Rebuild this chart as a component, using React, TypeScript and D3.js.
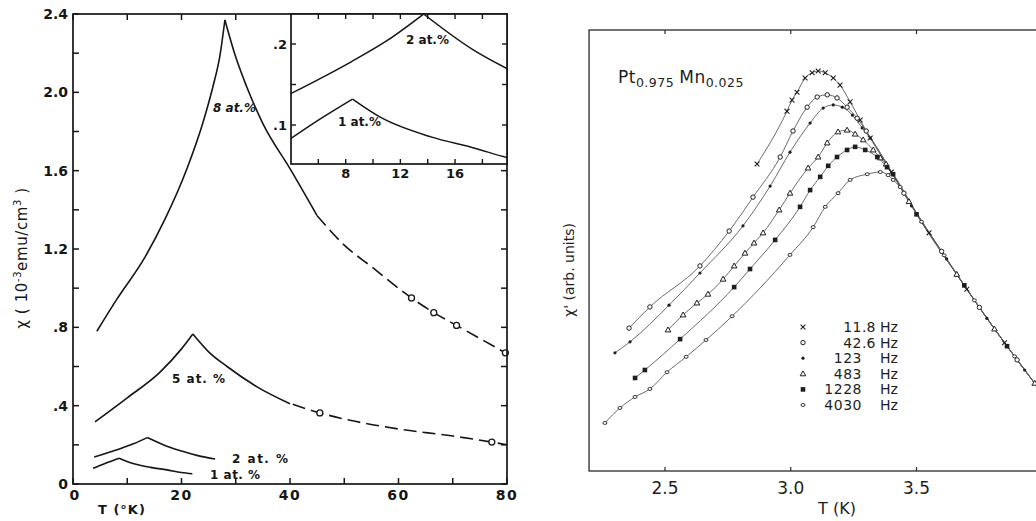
import React from "react";
import * as d3 from "d3";

// ---------- Left panel data (chi in 1e-3 emu/cm3, T in K) ----------
const c8RiseT = [4.4, 8, 13.3, 17, 21, 24, 25.8, 27.1, 28];
const c8RiseChi = [0.78, 0.94, 1.16, 1.355, 1.61, 1.85, 2.03, 2.19, 2.37];
const c8FallT = [28, 30, 32, 35, 40, 45];
const c8FallChi = [2.37, 2.18, 2.03, 1.84, 1.61, 1.37];
const c8DashT = [45, 50, 55, 62.4, 66.5, 70.7, 79.7];
const c8DashChi = [1.37, 1.22, 1.11, 0.95, 0.875, 0.81, 0.67];
const c8CircT = [62.4, 66.5, 70.7, 79.7];
const c8CircChi = [0.95, 0.875, 0.81, 0.67];

const c5RiseT = [4.05, 10, 16, 20, 22.1];
const c5RiseChi = [0.317, 0.44, 0.57, 0.69, 0.766];
const c5FallT = [22.1, 25, 28.4, 34, 40];
const c5FallChi = [0.766, 0.675, 0.6, 0.495, 0.41];
const c5DashT = [40.5, 45.5, 52, 60, 70, 77.2, 80];
const c5DashChi = [0.407, 0.363, 0.32, 0.281, 0.245, 0.214, 0.2];
const c5CircT = [45.5, 77.2];
const c5CircChi = [0.363, 0.214];

const c2RiseT = [3.9, 8.4, 11.1, 13.7];
const c2RiseChi = [0.138, 0.178, 0.205, 0.237];
const c2FallT = [13.7, 17.3, 20, 23, 26.2];
const c2FallChi = [0.237, 0.193, 0.168, 0.145, 0.128];

const c1RiseT = [3.7, 6, 8.5];
const c1RiseChi = [0.08, 0.106, 0.132];
const c1FallT = [8.5, 10.6, 14.3, 17.3, 20, 22];
const c1FallChi = [0.132, 0.109, 0.085, 0.072, 0.059, 0.052];

const leftYTicks = [0, 0.4, 0.8, 1.2, 1.6, 2.0, 2.4];
const leftYLabels = ["0", ".4", ".8", "1.2", "1.6", "2.0", "2.4"];
const leftXTicks = [0, 20, 40, 60, 80];
const leftXLabels = ["0", "20", "40", "60", "80"];
const insetXTicks = [8, 12, 16];
const insetXLabels = ["8", "12", "16"];
const insetYTicks = [0.1, 0.2];
const insetYLabels = [".1", ".2"];

// ---------- Right panel data (chi' arb. units, T in K) ----------
const f118T = [2.866, 2.985, 3.005, 3.025, 3.057, 3.085, 3.109, 3.137, 3.169, 3.196, 3.236, 3.276, 3.316, 3.40, 3.55, 3.70, 3.85, 4.0];
const f118V = [6.96, 8.16, 8.41, 8.59, 8.91, 9.03, 9.07, 9.03, 8.91, 8.75, 8.37, 7.96, 7.55, 6.78, 5.40, 4.12, 2.91, 1.76];

const f426T = [2.357, 2.44, 2.639, 2.755, 2.85, 2.958, 3.009, 3.065, 3.105, 3.145, 3.184, 3.224, 3.264, 3.30, 3.45, 3.60, 3.75, 3.90, 4.0];
const f426V = [3.24, 3.72, 4.65, 5.44, 6.21, 7.12, 7.71, 8.25, 8.48, 8.53, 8.46, 8.25, 8.0, 7.71, 6.30, 4.98, 3.71, 2.52, 1.76];

const f123T = [2.301, 2.361, 2.516, 2.639, 2.81, 2.918, 2.997, 3.077, 3.129, 3.169, 3.205, 3.245, 3.284, 3.316, 3.48, 3.62, 3.78, 3.93, 4.0];
const f123V = [2.68, 2.93, 3.76, 4.49, 5.56, 6.46, 7.23, 7.89, 8.23, 8.30, 8.25, 8.07, 7.78, 7.55, 6.01, 4.81, 3.46, 2.29, 1.76];

const f483T = [2.512, 2.572, 2.627, 2.671, 2.731, 2.775, 2.818, 2.854, 2.89, 2.954, 2.997, 3.069, 3.109, 3.145, 3.188, 3.224, 3.256, 3.288, 3.328, 3.356, 3.379, 3.47, 3.66, 3.81, 3.97, 4.0];
const f483V = [3.2, 3.54, 3.81, 4.01, 4.35, 4.65, 4.94, 5.17, 5.4, 5.92, 6.3, 6.87, 7.12, 7.44, 7.69, 7.73, 7.64, 7.51, 7.28, 7.1, 6.96, 6.11, 4.46, 3.22, 1.99, 1.76];

const f1228T = [2.381, 2.42, 2.56, 2.775, 2.838, 2.938, 3.037, 3.077, 3.117, 3.149, 3.184, 3.224, 3.256, 3.296, 3.344, 3.383, 3.407, 3.50, 3.69, 3.86, 4.0];
const f1228V = [2.11, 2.29, 2.99, 4.17, 4.58, 5.24, 5.99, 6.37, 6.67, 6.92, 7.12, 7.28, 7.35, 7.28, 7.12, 6.89, 6.73, 5.82, 4.21, 2.83, 1.76];

const f4030T = [2.261, 2.321, 2.381, 2.44, 2.508, 2.584, 2.663, 2.767, 2.997, 3.089, 3.137, 3.188, 3.236, 3.304, 3.356, 3.387, 3.407, 3.435, 3.52, 3.61, 3.73, 3.89, 4.0];
const f4030V = [1.09, 1.43, 1.68, 1.86, 2.24, 2.59, 2.97, 3.51, 4.9, 5.53, 5.99, 6.3, 6.6, 6.73, 6.78, 6.71, 6.6, 6.44, 5.65, 4.89, 3.87, 2.6, 1.76];

const freqLabels = ["11.8", "42.6", "123", "483", "1228", "4030"];
const freqMarks = ["x", "o", "dot", "tri", "sq", "small"];
const rightXTicks = [2.5, 3.0, 3.5, 4.0];
const rightXLabels = ["2.5", "3.0", "3.5"];

type P = [number, number];
const zip = (a: number[], b: number[]): P[] => a.map((t, i) => [t, b[i]] as P);

const INK = "#161616";
const LFONT = "'DejaVu Sans', 'Liberation Sans', Arial, sans-serif";

function Marker({ kind, x, y }: { kind: string; x: number; y: number }) {
  const c = "#1e1e1e";
  switch (kind) {
    case "x":
      return (
        <path d={`M${x - 2.4},${y - 2.4}L${x + 2.4},${y + 2.4}M${x - 2.4},${y + 2.4}L${x + 2.4},${y - 2.4}`} stroke={c} strokeWidth={1.1} />
      );
    case "o":
      return <circle cx={x} cy={y} r={2.2} fill="white" stroke={c} strokeWidth={1} />;
    case "dot":
      return <circle cx={x} cy={y} r={1.6} fill={c} />;
    case "tri":
      return (
        <path d={`M${x},${y - 2.9}L${x + 2.8},${y + 2}L${x - 2.8},${y + 2}Z`} fill="white" stroke={c} strokeWidth={1} />
      );
    case "sq":
      return <rect x={x - 2.3} y={y - 2.3} width={4.6} height={4.6} fill={c} />;
    default:
      return <ellipse cx={x} cy={y} rx={2} ry={1.5} fill="white" stroke={c} strokeWidth={0.9} />;
  }
}

export default function App() {
  // Left main
  const xL = d3.scaleLinear().domain([0, 80]).range([73, 507]);
  const yL = d3.scaleLinear().domain([0, 2.4]).range([484, 14]);
  // Inset
  const xI = d3.scaleLinear().domain([4, 19.8]).range([291, 507]);
  const yI = d3.scaleLinear().domain([0.1, 0.2]).range([125, 44]);
  const iTop = 14;
  const iBot = 164;
  // Right
  const xR = d3.scaleLinear().domain([2.5, 3.5]).range([665, 916.5]);
  const yR = d3.scaleLinear().domain([0, 10]).range([471, 30]);

  const lineL = d3
    .line<P>()
    .x((d) => xL(d[0]))
    .y((d) => yL(d[1]))
    .curve(d3.curveMonotoneX);
  const lineI = d3
    .line<P>()
    .x((d) => xI(d[0]))
    .y((d) => yI(d[1]))
    .curve(d3.curveMonotoneX);
  const lineR = d3
    .line<P>()
    .x((d) => xR(d[0]))
    .y((d) => yR(d[1]))
    .curve(d3.curveMonotoneX);

  const solidSegs: P[][] = [
    zip(c8RiseT, c8RiseChi),
    zip(c8FallT, c8FallChi),
    zip(c5RiseT, c5RiseChi),
    zip(c5FallT, c5FallChi),
    zip(c2RiseT, c2RiseChi),
    zip(c2FallT, c2FallChi),
    zip(c1RiseT, c1RiseChi),
    zip(c1FallT, c1FallChi),
  ];
  const dashSegs: P[][] = [zip(c8DashT, c8DashChi), zip(c5DashT, c5DashChi)];
  const circles: P[] = [...zip(c8CircT, c8CircChi), ...zip(c5CircT, c5CircChi)];
  const insetSegs: P[][] = [
    zip(c2RiseT, c2RiseChi),
    zip(c2FallT, c2FallChi),
    zip(c1RiseT, c1RiseChi),
    zip(c1FallT, c1FallChi),
  ];

  const rightSeries = [
    zip(f118T, f118V),
    zip(f426T, f426V),
    zip(f123T, f123V),
    zip(f483T, f483V),
    zip(f1228T, f1228V),
    zip(f4030T, f4030V),
  ];

  const xL0 = xL(0), xL1 = xL(80), yL0 = yL(0), yL1 = yL(2.4);
  const tickLen = 6;
  const minorY = d3.range(0, 2.41, 0.2);
  const minorX = d3.range(0, 81, 10);
  const insetMinorX = d3.range(6, 19, 2);
  const insetMinorY = [0.1, 0.15, 0.2];

  const rL = xR(2.5 - 0.302); // left frame of right panel
  const rR = xR(4.0);
  const rT = yR(10);
  const rB = yR(0);

  const legendX = 803;
  const legendY0 = 327;
  const legendDy = 15.6;

  return (
    <svg
      width={1036}
      height={521}
      style={{ position: "absolute", left: 0, top: 0, background: "white" }}
      fontFamily={LFONT}
    >
      <defs>
        <clipPath id="insetClip">
          <rect x={xI(4)} y={iTop} width={xI(19.8) - xI(4)} height={iBot - iTop} />
        </clipPath>
        <clipPath id="rightClip">
          <rect x={rL} y={rT} width={rR - rL} height={rB - rT} />
        </clipPath>
      </defs>
      <rect x={0} y={0} width={1036} height={521} fill="white" />

      {/* ================= LEFT PANEL ================= */}
      <g>
        {solidSegs.map((s, i) => (
          <path key={"s" + i} d={lineL(s) || ""} fill="none" stroke={INK} strokeWidth={1.6} />
        ))}
        {dashSegs.map((s, i) => (
          <path key={"d" + i} d={lineL(s) || ""} fill="none" stroke={INK} strokeWidth={1.6} strokeDasharray="13,6" />
        ))}
        {circles.map((c, i) => (
          <circle key={"c" + i} cx={xL(c[0])} cy={yL(c[1])} r={3} fill="white" stroke={INK} strokeWidth={1.3} />
        ))}

        {/* frame */}
        <rect x={xL0} y={yL1} width={xL1 - xL0} height={yL0 - yL1} fill="none" stroke={INK} strokeWidth={1.7} />
        {minorY.map((v, i) => (
          <g key={"ly" + i}>
            <line x1={xL0} x2={xL0 + tickLen} y1={yL(v)} y2={yL(v)} stroke={INK} strokeWidth={1.5} />
            {yL(v) > iBot + 3 && (
              <line x1={xL1} x2={xL1 - tickLen} y1={yL(v)} y2={yL(v)} stroke={INK} strokeWidth={1.5} />
            )}
          </g>
        ))}
        {minorX.map((v, i) => (
          <g key={"lx" + i}>
            <line x1={xL(v)} x2={xL(v)} y1={yL0} y2={yL0 - tickLen} stroke={INK} strokeWidth={1.5} />
            {xL(v) < xI(4) - 3 && (
              <line x1={xL(v)} x2={xL(v)} y1={yL1} y2={yL1 + tickLen} stroke={INK} strokeWidth={1.5} />
            )}
          </g>
        ))}
        {leftYTicks.map((v, i) => (
          <text key={"lyl" + i} x={68} y={yL(v)} dy="0.36em" textAnchor="end" fontSize={14} fontWeight="bold" fill={INK}>
            {leftYLabels[i]}
          </text>
        ))}
        {leftXTicks.map((v, i) => (
          <text key={"lxl" + i} x={xL(v) + (v === 0 ? 2 : 0)} y={500} textAnchor="middle" fontSize={14} fontWeight="bold" letterSpacing={1.5} fill={INK}>
            {leftXLabels[i]}
          </text>
        ))}
        <text x={98} y={514} fontSize={13} fontWeight="bold" letterSpacing={1} fill={INK}>
          T (°K)
        </text>
        <text transform="translate(27,258) rotate(-90)" textAnchor="middle" fontSize={15} letterSpacing={0.6} fill={INK}>
          χ ( 10
          <tspan dy={-6} fontSize={10}>-3</tspan>
          <tspan dy={6}>emu/cm</tspan>
          <tspan dy={-6} fontSize={10}>3</tspan>
          <tspan dy={6}> )</tspan>
        </text>

        {/* curve labels */}
        <text x={213} y={112} fontSize={12} fontStyle="italic" fontWeight="bold" fill={INK}>
          8 at.%
        </text>
        <text x={172} y={383} fontSize={12} fontWeight="bold" letterSpacing={1} fill={INK}>
          5 at. %
        </text>
        <text x={232} y={463} fontSize={12} fontWeight="bold" letterSpacing={1.5} fill={INK}>
          2 at. %
        </text>
        <text x={210} y={479} fontSize={12} fontWeight="bold" letterSpacing={0.5} fill={INK}>
          1 at. %
        </text>

        {/* inset */}
        <rect x={xI(4)} y={iTop} width={xI(19.8) - xI(4)} height={iBot - iTop} fill="white" stroke={INK} strokeWidth={1.7} />
        <g clipPath="url(#insetClip)">
          {insetSegs.map((s, i) => (
            <path key={"i" + i} d={lineI(s) || ""} fill="none" stroke={INK} strokeWidth={1.5} />
          ))}
        </g>
        {insetMinorX.map((v, i) => (
          <g key={"ix" + i}>
            <line x1={xI(v)} x2={xI(v)} y1={iBot} y2={iBot - 5} stroke={INK} strokeWidth={1.4} />
            <line x1={xI(v)} x2={xI(v)} y1={iTop} y2={iTop + 5} stroke={INK} strokeWidth={1.4} />
          </g>
        ))}
        {insetMinorY.map((v, i) => (
          <g key={"iy" + i}>
            <line x1={xI(4)} x2={xI(4) + 5} y1={yI(v)} y2={yI(v)} stroke={INK} strokeWidth={1.4} />
            <line x1={xI(19.8)} x2={xI(19.8) - 5} y1={yI(v)} y2={yI(v)} stroke={INK} strokeWidth={1.4} />
          </g>
        ))}
        {insetXTicks.map((v, i) => (
          <text key={"ixl" + i} x={xI(v)} y={178} textAnchor="middle" fontSize={13} fontWeight="bold" fill={INK}>
            {insetXLabels[i]}
          </text>
        ))}
        {insetYTicks.map((v, i) => (
          <text key={"iyl" + i} x={287} y={yI(v)} dy="0.36em" textAnchor="end" fontSize={13} fontWeight="bold" fill={INK}>
            {insetYLabels[i]}
          </text>
        ))}
        <text x={406} y={44} fontSize={12} fontWeight="bold" fill={INK}>
          2 at.%
        </text>
        <text x={338} y={126} fontSize={12} fontWeight="bold" fill={INK}>
          1 at.%
        </text>
      </g>

      {/* ================= RIGHT PANEL ================= */}
      <g>
        <g clipPath="url(#rightClip)">
          {rightSeries.map((s, i) => (
            <path key={"r" + i} d={lineR(s) || ""} fill="none" stroke="#5a5a5a" strokeWidth={0.9} />
          ))}
          {rightSeries.map((s, i) =>
            s.map((p, j) => <Marker key={"m" + i + "_" + j} kind={freqMarks[i]} x={xR(p[0])} y={yR(p[1])} />)
          )}
        </g>
        <rect x={rL} y={rT} width={rR - rL} height={rB - rT} fill="none" stroke="#2a2a2a" strokeWidth={1.3} />
        {rightXTicks.map((v, i) => (
          <g key={"rx" + i}>
            <line x1={xR(v)} x2={xR(v)} y1={rT} y2={rT + 4} stroke="#2a2a2a" strokeWidth={1.2} />
            <line x1={xR(v)} x2={xR(v)} y1={rB} y2={rB - 4} stroke="#2a2a2a" strokeWidth={1.2} />
            {rightXLabels[i] && (
              <text x={xR(v)} y={494} textAnchor="middle" fontSize={17} fill="#1e1e1e">
                {rightXLabels[i]}
              </text>
            )}
          </g>
        ))}
        <text x={837} y={514} textAnchor="middle" fontSize={16} fill="#1e1e1e">
          T (K)
        </text>
        <text transform="translate(574,270) rotate(-90)" textAnchor="middle" fontSize={14} fill="#1e1e1e">
          χ' (arb. units)
        </text>
        <text x={618} y={83} fontSize={17} fill="#1e1e1e" letterSpacing={0.5}>
          Pt
          <tspan dy={4} fontSize={12.5}>0.975</tspan>
          <tspan dy={-4} dx={5} fontSize={17}>Mn</tspan>
          <tspan dy={4} fontSize={12.5}>0.025</tspan>
        </text>

        {/* legend */}
        {freqLabels.map((lab, i) => {
          const y = legendY0 + i * legendDy;
          const parts = lab.split(".");
          return (
            <g key={"lg" + i}>
              <Marker kind={freqMarks[i]} x={legendX} y={y} />
              <text x={862} y={y + 5} textAnchor="end" fontSize={14} fill="#1e1e1e" letterSpacing={0.5}>
                {parts[0]}
              </text>
              {parts.length > 1 && (
                <text x={862} y={y + 5} fontSize={14} fill="#1e1e1e">
                  {"." + parts[1]}
                </text>
              )}
              <text x={880} y={y + 5} fontSize={14} fill="#1e1e1e">
                Hz
              </text>
            </g>
          );
        })}
      </g>
    </svg>
  );
}
